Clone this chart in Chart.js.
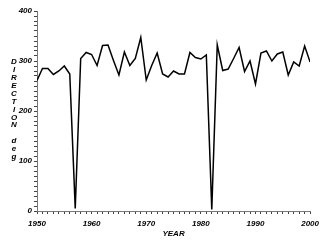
<!DOCTYPE html>
<html>
<head>
<meta charset="utf-8">
<script src="https://cdn.jsdelivr.net/npm/chart.js@4"></script>
<style>
  html, body { margin: 0; padding: 0; background: #fff; }
</style>
</head>
<body>
<canvas id="dirChart" width="324" height="240"></canvas>
<script>
// years and wind direction (deg)
const years = [1950, 1951, 1952, 1953, 1954, 1955, 1956, 1957, 1958, 1959,
  1960, 1961, 1962, 1963, 1964, 1965, 1966, 1967, 1968, 1969,
  1970, 1971, 1972, 1973, 1974, 1975, 1976, 1977, 1978, 1979,
  1980, 1981, 1982, 1983, 1984, 1985, 1986, 1987, 1988, 1989,
  1990, 1991, 1992, 1993, 1994, 1995, 1996, 1997, 1998, 1999, 2000];
const direction = [261, 285, 285, 273, 280, 290, 274, 5, 305, 317,
  313, 291, 331, 332, 301, 272, 318, 291, 305, 347,
  262, 291, 316, 274, 268, 280, 274, 274, 317, 307,
  304, 312, 3, 332, 281, 284, 305, 327, 279, 300,
  254, 316, 320, 300, 314, 318, 272, 298, 290, 330, 298];
const yTitleLetters = ['D', 'I', 'R', 'E', 'C', 'T', 'I', 'O', 'N', '', 'd', 'e', 'g'];
const xTitle = 'YEAR';

const FONT = '"Liberation Sans", Arial, sans-serif';
const tickFont = { family: FONT, size: 8, style: 'italic', weight: 'bold' };

// stacked upright letters for the y axis title
const yTitlePlugin = {
  id: 'yTitle',
  afterDraw(chart) {
    const ctx = chart.ctx;
    ctx.save();
    ctx.font = 'italic bold 8px ' + FONT;
    ctx.fillStyle = '#000';
    ctx.textAlign = 'center';
    ctx.textBaseline = 'middle';
    yTitleLetters.forEach((ch, i) => {
      if (ch) ctx.fillText(ch, 14, 62 + i * 7.9);
    });
    ctx.restore();
  }
};

new Chart(document.getElementById('dirChart'), {
  type: 'line',
  data: {
    datasets: [{
      data: years.map((y, i) => ({ x: y, y: direction[i] })),
      borderColor: '#000',
      borderWidth: 1.5,
      pointRadius: 0,
      tension: 0,
      fill: false
    }]
  },
  options: {
    responsive: false,
    animation: false,
    layout: { padding: { left: 0, right: 12, top: 11, bottom: 0 } },
    plugins: { legend: { display: false }, tooltip: { enabled: false } },
    scales: {
      x: {
        type: 'linear',
        min: 1950,
        max: 2000,
        afterFit: s => { s.height = 29; },
        border: { color: '#777', width: 1 },
        grid: { drawOnChartArea: false, tickLength: 3, tickColor: '#444' },
        ticks: {
          stepSize: 1,
          autoSkip: false,
          maxRotation: 0,
          padding: 5,
          color: '#000',
          font: tickFont,
          callback: v => (v % 10 === 0 ? String(v) : '')
        },
        title: {
          display: true,
          text: xTitle,
          color: '#000',
          font: tickFont,
          padding: { top: 0, bottom: 1 }
        }
      },
      y: {
        min: 0,
        max: 400,
        afterFit: s => { s.width = 37; },
        border: { color: '#777', width: 1 },
        grid: { drawOnChartArea: false, tickLength: 3, tickColor: '#444' },
        ticks: {
          stepSize: 10,
          autoSkip: false,
          padding: 2,
          color: '#000',
          font: tickFont,
          callback: v => (v % 100 === 0 ? String(v) : '')
        }
      }
    }
  },
  plugins: [yTitlePlugin]
});
</script>
</body>
</html>
